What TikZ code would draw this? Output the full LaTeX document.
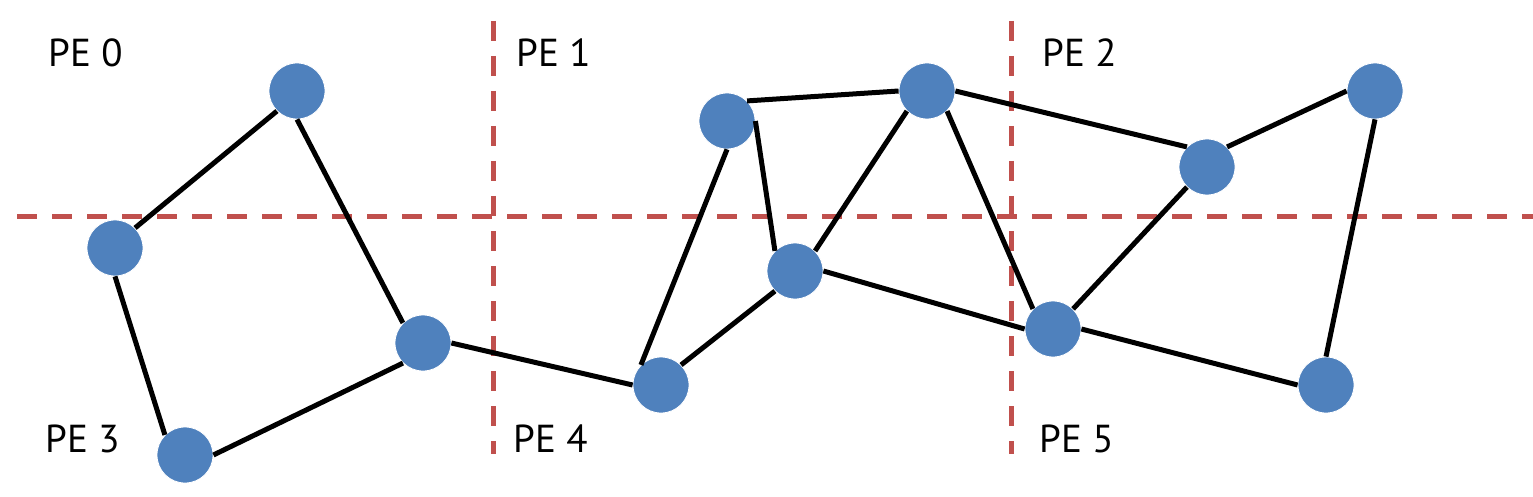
\documentclass[tikz,border=0pt]{standalone}
\usepackage{xcolor}
\usepackage{fontspec}
\setmainfont{PT Sans}
\usepackage{tikz}

\definecolor{vblue}{HTML}{4F81BD}
\definecolor{cutred}{HTML}{C0504D}

\begin{document}
\begin{tikzpicture}[
	vertex/.style = {circle, fill=vblue, draw=white, line width=0.8pt, minimum size=56pt, inner sep=0pt},
	edge/.style = {draw, color=black, line width=5pt},
	cut/.style = {color=cutred, line width=5pt, dash pattern=on 20pt off 15pt},
	pe/.style = {inner sep=0pt, font=\fontsize{39pt}{44pt}\selectfont}
]
	\useasboundingbox (0pt, 0pt) rectangle (1533pt, 496pt);
	% partition lines
	\coordinate (h0) at (17pt, 279.5pt);
	\coordinate (h1) at (1533pt, 279.5pt);
	\coordinate (va0) at (493.5pt, 475pt);
	\coordinate (va1) at (493.5pt, 42pt);
	\coordinate (vb0) at (1011pt, 475pt);
	\coordinate (vb1) at (1011pt, 42pt);
	\draw[cut] (h0) -- (h1);
	\draw[cut] (va0) -- (va1);
	\draw[cut] (vb0) -- (vb1);
	% labels
	\node[pe, anchor = base west] (pe0) at (48pt, 429pt) {PE 0};
	\node[pe, anchor = base west] (pe1) at (516pt, 429pt) {PE 1};
	\node[pe, anchor = base west] (pe2) at (1042pt, 429pt) {PE 2};
	\node[pe, anchor = base west] (pe3) at (45pt, 44pt) {PE 3};
	\node[pe, anchor = base west] (pe4) at (513pt, 44pt) {PE 4};
	\node[pe, anchor = base west] (pe5) at (1039pt, 44pt) {PE 5};
	% vertices
	\node[vertex] (v1) at (297pt, 405pt) {};
	\node[vertex] (v2) at (115pt, 248pt) {};
	\node[vertex] (v3) at (185pt, 41pt) {};
	\node[vertex] (v4) at (423pt, 153pt) {};
	\node[vertex] (v5) at (661pt, 111pt) {};
	\node[vertex] (v6) at (727pt, 375pt) {};
	\node[vertex] (v7) at (795pt, 225pt) {};
	\node[vertex] (v8) at (927pt, 405pt) {};
	\node[vertex] (v9) at (1207pt, 329pt) {};
	\node[vertex] (v10) at (1053pt, 167pt) {};
	\node[vertex] (v11) at (1375pt, 405pt) {};
	\node[vertex] (v12) at (1326pt, 111pt) {};
	% edges, joined at the circles' eight connection points
	\draw[edge] (v1.south west) -- (v2.north east);
	\draw[edge] (v1.south) -- (v4.north west);
	\draw[edge] (v2.south) -- (v3.north west);
	\draw[edge] (v3.east) -- (v4.south west);
	\draw[edge] (v4.east) -- (v5.west);
	\draw[edge] (v5.north west) -- (v6.south);
	\draw[edge] (v5.north east) -- (v7.south west);
	\draw[edge] (v6.east) -- (v7.north west);
	\draw[edge] (v6.north east) -- (v8.west);
	\draw[edge] (v7.north east) -- (v8.south west);
	\draw[edge] (v7.east) -- (v10.west);
	\draw[edge] (v8.south east) -- (v10.north west);
	\draw[edge] (v8.east) -- (v9.north west);
	\draw[edge] (v9.south west) -- (v10.north east);
	\draw[edge] (v9.north east) -- (v11.west);
	\draw[edge] (v11.south) -- (v12.north);
	\draw[edge] (v10.east) -- (v12.west);
\end{tikzpicture}
\end{document}
